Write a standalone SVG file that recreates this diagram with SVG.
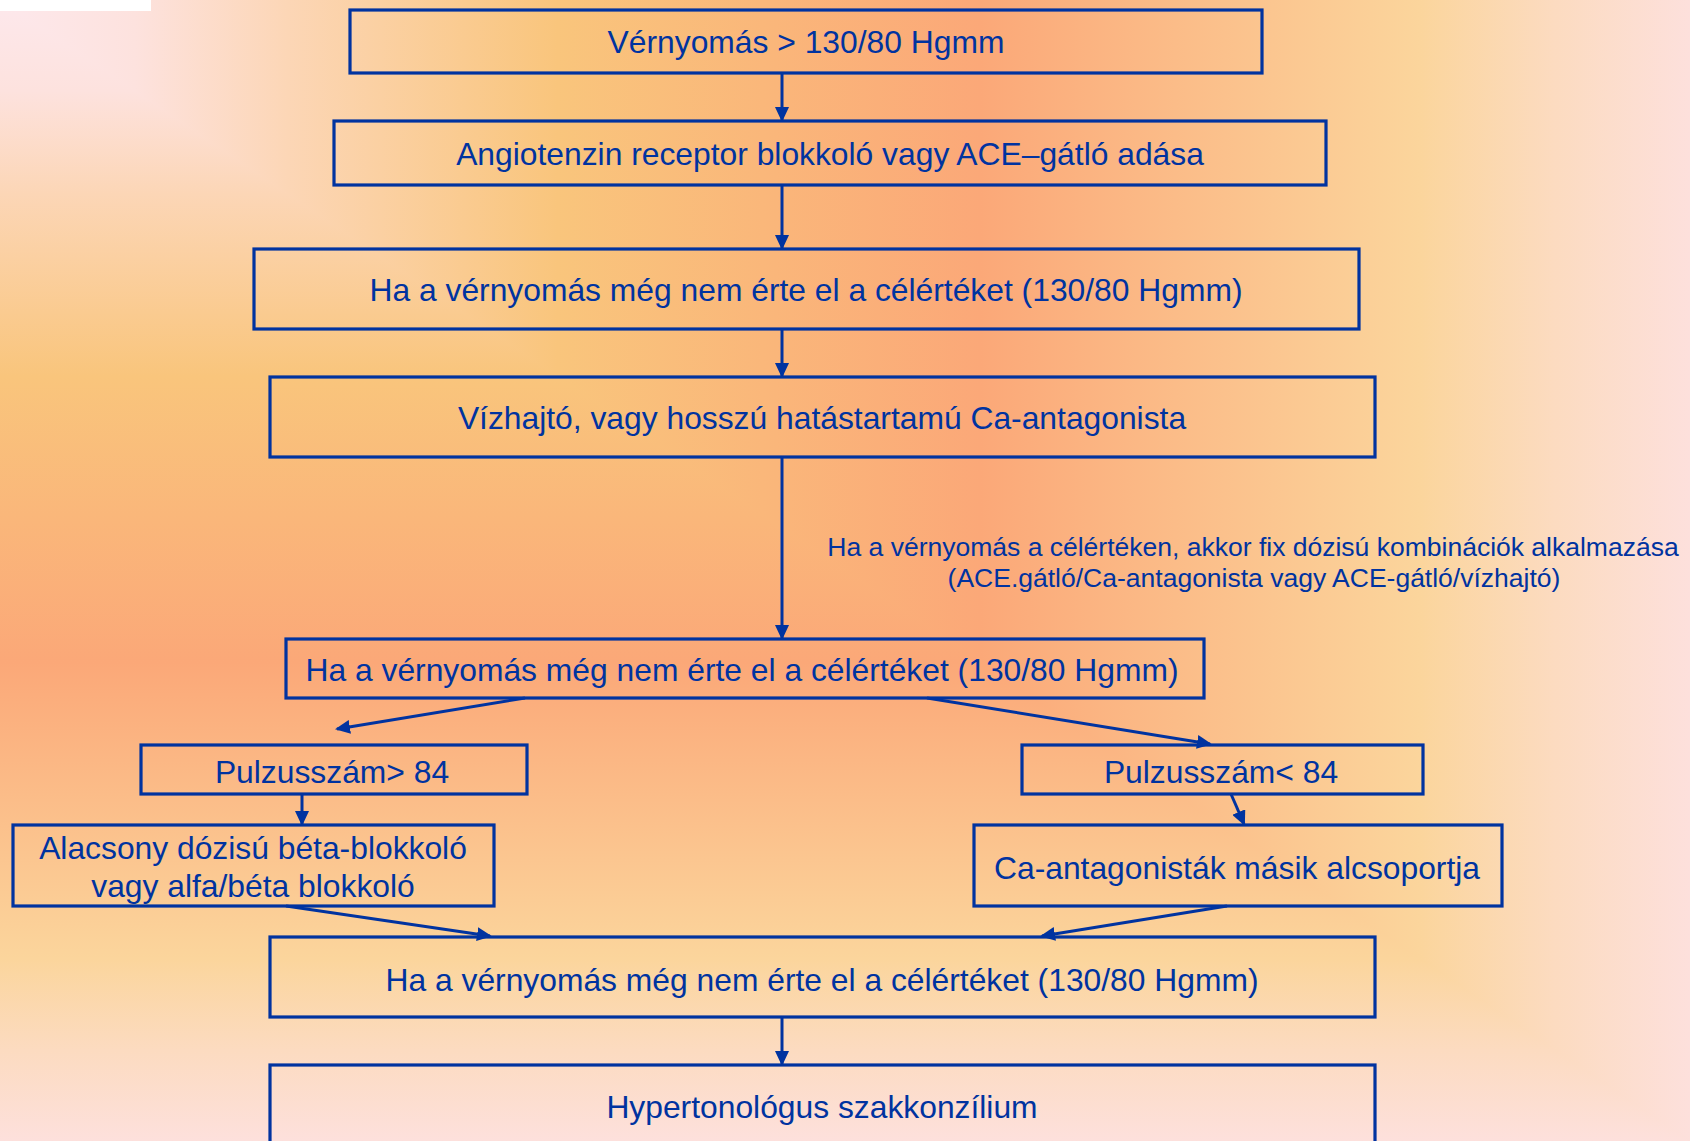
<svg xmlns="http://www.w3.org/2000/svg" width="1690" height="1141" viewBox="0 0 1690 1141">
<defs>
<style>
.box{fill:none;stroke:#0033a0;stroke-width:3.2}
.t{font-family:"Liberation Sans",Arial,sans-serif;font-size:31.8px;fill:#0033a0;text-anchor:middle}
.a{font-family:"Liberation Sans",Arial,sans-serif;font-size:26.5px;fill:#0033a0;text-anchor:middle}
.c{stroke:#0033a0;stroke-width:3;fill:none;marker-end:url(#arr)}
</style>
<marker id="arr" markerUnits="userSpaceOnUse" markerWidth="16" markerHeight="14" refX="13" refY="7" orient="auto">
<path d="M0,0 L15,7 L0,14 z" fill="#0033a0"/>
</marker>
<linearGradient id="gx" gradientUnits="userSpaceOnUse" x1="0" y1="0" x2="1690" y2="0">
<stop offset="0" stop-color="#fde8ec"/>
<stop offset="0.08" stop-color="#fde2de"/>
<stop offset="0.17" stop-color="#fcd6b6"/>
<stop offset="0.33" stop-color="#f9c57c"/>
<stop offset="0.58" stop-color="#fba878"/>
<stop offset="0.84" stop-color="#fbd59c"/>
<stop offset="0.92" stop-color="#fcdbc0"/>
<stop offset="1" stop-color="#fde0dc"/>
</linearGradient>
<linearGradient id="gy" gradientUnits="userSpaceOnUse" x1="0" y1="0" x2="0" y2="1141">
<stop offset="0" stop-color="#fde8ec"/>
<stop offset="0.08" stop-color="#fde2de"/>
<stop offset="0.17" stop-color="#fcd6b6"/>
<stop offset="0.33" stop-color="#f9c57c"/>
<stop offset="0.58" stop-color="#fba878"/>
<stop offset="0.84" stop-color="#fbd59c"/>
<stop offset="0.92" stop-color="#fcdbc0"/>
<stop offset="1" stop-color="#fde0dc"/>
</linearGradient>
</defs>
<g id="background">
<rect x="0" y="0" width="1690" height="1141" fill="url(#gy)"/>
<polygon points="0,0 1690,0 1690,1141" fill="url(#gx)"/>
<rect x="0" y="0" width="151" height="11" fill="#ffffff"/>
</g>
<g id="connectors">
<line class="c" x1="782" y1="73" x2="782" y2="120"/>
<line class="c" x1="782" y1="185" x2="782" y2="248"/>
<line class="c" x1="782" y1="329" x2="782" y2="376"/>
<line class="c" x1="782" y1="457" x2="782" y2="638"/>
<line class="c" x1="525" y1="698" x2="337" y2="729"/>
<line class="c" x1="927" y1="698" x2="1210" y2="744"/>
<line class="c" x1="302" y1="794" x2="302" y2="824"/>
<line class="c" x1="1231" y1="794" x2="1244" y2="824"/>
<line class="c" x1="286" y1="906" x2="490" y2="936"/>
<line class="c" x1="1227" y1="906" x2="1042" y2="936"/>
<line class="c" x1="782" y1="1017" x2="782" y2="1064"/>
</g>
<g id="n1"><rect class="box" x="350" y="10" width="912" height="63"/><text class="t" x="806" y="53">Vérnyomás &gt; 130/80 Hgmm</text></g>
<g id="n2"><rect class="box" x="334" y="121" width="992" height="64"/><text class="t" x="830" y="165">Angiotenzin receptor blokkoló vagy ACE–gátló adása</text></g>
<g id="n3"><rect class="box" x="254" y="249" width="1105" height="80"/><text class="t" x="806" y="301">Ha a vérnyomás még nem érte el a célértéket (130/80 Hgmm)</text></g>
<g id="n4"><rect class="box" x="270" y="377" width="1105" height="80"/><text class="t" x="822" y="429">Vízhajtó, vagy hosszú hatástartamú Ca-antagonista</text></g>
<g id="note"><text class="a" x="1253" y="556">Ha a vérnyomás a célértéken, akkor fix dózisú kombinációk alkalmazása</text><text class="a" x="1254" y="587">(ACE.gátló/Ca-antagonista vagy ACE-gátló/vízhajtó)</text></g>
<g id="n5"><rect class="box" x="286" y="639" width="918" height="59"/><text class="t" x="742" y="681">Ha a vérnyomás még nem érte el a célértéket (130/80 Hgmm)</text></g>
<g id="n6"><rect class="box" x="141" y="745" width="386" height="49"/><text class="t" x="332" y="782.5">Pulzusszám&gt; 84</text></g>
<g id="n7"><rect class="box" x="1022" y="745" width="401" height="49"/><text class="t" x="1221" y="782.5">Pulzusszám&lt; 84</text></g>
<g id="n8"><rect class="box" x="13" y="825" width="481" height="81"/><text class="t" x="253" y="859">Alacsony dózisú béta-blokkoló</text><text class="t" x="253" y="897">vagy alfa/béta blokkoló</text></g>
<g id="n9"><rect class="box" x="974" y="825" width="528" height="81"/><text class="t" x="1237" y="879">Ca-antagonisták másik alcsoportja</text></g>
<g id="n10"><rect class="box" x="270" y="937" width="1105" height="80"/><text class="t" x="822" y="991">Ha a vérnyomás még nem érte el a célértéket (130/80 Hgmm)</text></g>
<g id="n11"><rect class="box" x="270" y="1065" width="1105" height="120"/><text class="t" x="822" y="1118">Hypertonológus szakkonzílium</text></g>
</svg>
